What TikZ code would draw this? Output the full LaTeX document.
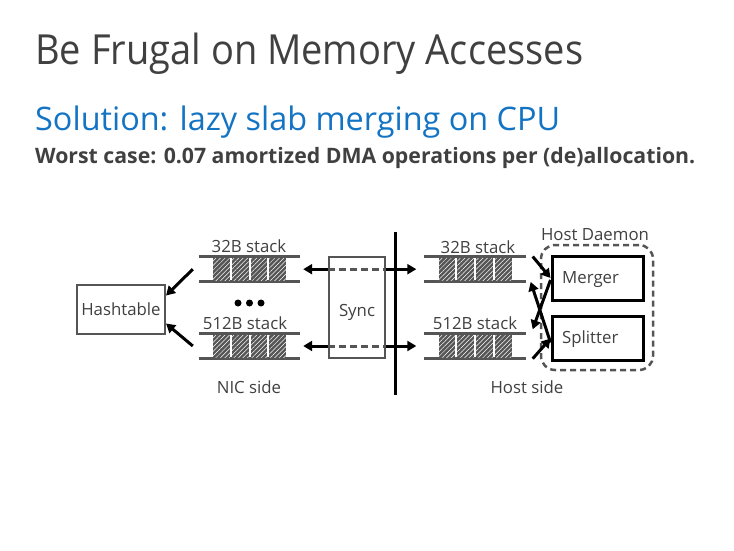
\documentclass[tikz,border=0pt]{standalone}
\usepackage{fontspec}
\setmainfont{Open Sans}
\usetikzlibrary{arrows.meta,patterns.meta,calc}
\definecolor{txt}{HTML}{404040}
\definecolor{ln}{HTML}{555555}
\definecolor{blu}{HTML}{1474C4}
\newcommand\mystack[3]{%
  \node[stk] (#1) at (#2,#3) {};
  \draw[stkline] (#1.north west) -- (#1.north east);
  \draw[stkline] (#1.south west) -- (#1.south east);
  \foreach \i in {0,...,3} {
    \path[cell] ($(#1.center)+(-37.5+\i*18.75+1,-11)$) rectangle ++(16.75,22);
  }%
}
\begin{document}
\begin{tikzpicture}[x=1pt,y=-1pt,
  lbl/.style={font=\fontsize{16.8}{19}\selectfont, text=txt, inner sep=0pt, anchor=base},
  stk/.style={minimum width=101pt, minimum height=25pt, inner sep=0pt},
  stkline/.style={draw=ln, line width=3pt},
  cell/.style={fill=ln, postaction={pattern={Lines[angle=45,distance=3.2pt,line width=0.5pt]}, pattern color=white}},
  arr/.style={line width=3pt, black, -{Triangle[length=9pt,width=10pt]}},
  dashseg/.style={line width=3pt, ln, dash pattern=on 7pt off 4pt},
  greybox/.style={draw=ln, line width=2pt, inner sep=0pt},
  blackbox/.style={draw=black, line width=3pt, inner sep=0pt, minimum width=91pt, minimum height=44pt},
  dot/.style={circle, fill=black, inner sep=0pt, minimum size=7pt}]
\useasboundingbox (0,0) rectangle (734,551);
\fill[white] (0,0) rectangle (734,551);

% headings
\node[anchor=base west, inner sep=0pt, text=txt] (title) at (35,64.3)
  {\resizebox{548pt}{31.5pt}{\fontsize{38}{40}\selectfont Be Frugal on Memory Accesses}};
\node[anchor=base west, inner sep=0pt, text=blu] (sub) at (35,130.5)
  {\resizebox{525pt}{!}{\fontsize{32}{34}\selectfont Solution: lazy slab merging on CPU}};
\node[anchor=base west, inner sep=0pt, text=txt] (worst) at (35,163.5)
  {\resizebox{660pt}{!}{\fontsize{20}{22}\selectfont\bfseries Worst case: 0.07 amortized DMA operations per (de)allocation.}};

% stacks
\mystack{n32}{249.5}{269.2}
\mystack{n512}{249.5}{346}
\mystack{h32}{475}{269.2}
\mystack{h512}{475}{346}

% labels
\node[lbl] (ln32) at (249,252) {32B stack};
\node[lbl] (ln512) at (245,329) {512B stack};
\node[lbl] (lnic) at (249,393) {NIC side};
\node[lbl] (lh32) at (478,253) {32B stack};
\node[lbl] (lh512) at (475,329.3) {512B stack};
\node[lbl] (lhost) at (527,393) {Host side};
\node[lbl] (ldaemon) at (595,240) {Host Daemon};

% dots
\node[dot] (d1) at (238,303) {};
\node[dot] (d2) at (249.5,303) {};
\node[dot] (d3) at (261,303) {};

% hashtable
\node[greybox, minimum width=88pt, minimum height=49pt, font=\fontsize{16.8}{19}\selectfont, text=txt] (hash) at (121,309.5) {Hashtable};

% divider
\coordinate (vt) at (395,232);
\coordinate (vb) at (395,395);

% sync arrows
\node[greybox, minimum width=56pt, minimum height=101pt] (sync) at (357,307.5) {};
\draw[arr] (sync.west |- n32.center) -- ([xshift=3pt]n32.east);
\draw[dashseg] (sync.west |- n32.center) -- (sync.east |- n32.center);
\draw[arr] (sync.east |- n32.center) -- ([xshift=-8pt]h32.west);
\draw[arr] (sync.west |- n512.center) -- ([xshift=3pt]n512.east);
\draw[dashseg] (sync.west |- n512.center) -- (sync.east |- n512.center);
\draw[arr] (sync.east |- n512.center) -- ([xshift=-8pt]h512.west);
\node[greybox, minimum width=56pt, minimum height=101pt] at (357,307.5) {};
\node[lbl] (lsync) at (357,316.7) {Sync};
\draw[line width=3pt, black] (vt) -- (vb);

% stacks to hashtable
\draw[arr] ([xshift=-6pt]n32.west) -- ([yshift=14pt]hash.east);
\draw[arr] ([xshift=-6pt]n512.west) -- ([yshift=-14pt]hash.east);

% host daemon
\node[draw=ln, line width=2.5pt, dash pattern=on 6pt off 4pt, rounded corners=14pt,
      minimum width=112pt, minimum height=125pt, inner sep=0pt] (daemon) at (597,307.5) {};
\node[blackbox] (merger) at (597.5,278) {};
\node[blackbox] (splitter) at (597.5,338.5) {};
\node[lbl, anchor=base west] (lmerger) at (562,283.3) {Merger};
\node[lbl, anchor=base west] (lsplitter) at (562,343.3) {Splitter};

\draw[arr] ([xshift=7pt]h32.north east) -- (merger.west);
\draw[arr] ([yshift=-2pt]merger.west) -- ([xshift=7pt,yshift=4pt]h512.north east);
\draw[arr] ([yshift=-4pt]splitter.west) -- ([xshift=5pt]h32.south east);
\draw[arr] ([xshift=7pt]h512.south east) -- (splitter.west);
\end{tikzpicture}
\end{document}
